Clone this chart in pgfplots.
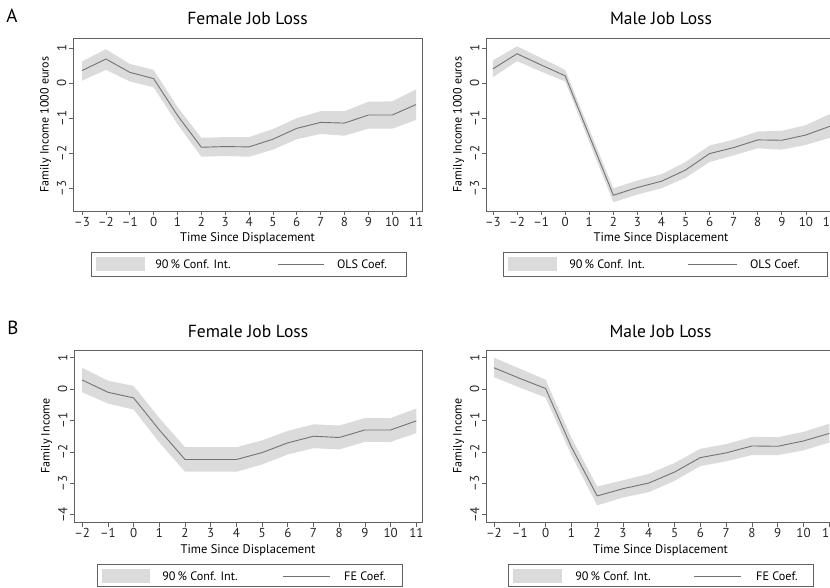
\documentclass[border=0pt]{standalone}
\usepackage{fontspec}
\setmainfont{PT Sans}
\usepackage{pgfplots}
\usepackage{pgfplotstable}
\pgfplotsset{compat=1.18}
\usepgfplotslibrary{fillbetween}
\definecolor{frm}{gray}{0.38}
\definecolor{bandc}{gray}{0.86}
\definecolor{linec}{gray}{0.45}

\pgfplotstableread{
x y lo hi
-3 0.36 0.07 0.62
-2 0.69 0.38 0.97
-1 0.31 0.05 0.55
0 0.13 -0.12 0.38
1 -0.92 -1.17 -0.68
2 -1.83 -2.10 -1.56
3 -1.81 -2.08 -1.54
4 -1.82 -2.10 -1.54
5 -1.60 -1.90 -1.31
6 -1.29 -1.60 -1.00
7 -1.12 -1.45 -0.80
8 -1.14 -1.50 -0.80
9 -0.91 -1.30 -0.53
10 -0.91 -1.30 -0.52
11 -0.61 -1.05 -0.18
}\af
\pgfplotstableread{
x y lo hi
-3 0.41 0.17 0.65
-2 0.84 0.63 1.05
-1 0.52 0.33 0.72
0 0.21 0.05 0.38
1 -1.50 -1.68 -1.32
2 -3.20 -3.40 -3.00
3 -2.98 -3.18 -2.78
4 -2.80 -3.00 -2.60
5 -2.48 -2.70 -2.25
6 -2.01 -2.25 -1.78
7 -1.84 -2.06 -1.61
8 -1.62 -1.86 -1.38
9 -1.63 -1.90 -1.36
10 -1.48 -1.76 -1.20
11 -1.23 -1.56 -0.88
}\am
\pgfplotstableread{
x y lo hi
-2 0.29 -0.10 0.68
-1 -0.10 -0.46 0.27
0 -0.28 -0.65 0.10
1 -1.30 -1.70 -0.92
2 -2.24 -2.63 -1.85
3 -2.24 -2.63 -1.85
4 -2.24 -2.63 -1.85
5 -2.02 -2.40 -1.63
6 -1.71 -2.08 -1.33
7 -1.50 -1.88 -1.12
8 -1.54 -1.92 -1.16
9 -1.30 -1.68 -0.92
10 -1.30 -1.68 -0.92
11 -1.01 -1.40 -0.62
}\bfem
\pgfplotstableread{
x y lo hi
-2 0.68 0.38 1.00
-1 0.34 0.05 0.65
0 0.02 -0.27 0.30
1 -1.84 -2.10 -1.55
2 -3.40 -3.70 -3.10
3 -3.17 -3.45 -2.90
4 -2.99 -3.28 -2.70
5 -2.64 -2.92 -2.35
6 -2.18 -2.45 -1.90
7 -2.03 -2.30 -1.75
8 -1.81 -2.10 -1.52
9 -1.82 -2.10 -1.53
10 -1.65 -1.95 -1.36
11 -1.41 -1.70 -1.10
}\bmal

\pgfplotsset{stata/.style={
  scale only axis,
  axis line style={frm, line width=0.8pt},
  tick style={frm, line width=0.8pt},
  tick align=outside, major tick length=4.5pt,
  xtick pos=bottom, ytick pos=left,
  ticklabel style={font=\fontsize{13}{14}\selectfont, text=black!85},
  xticklabel style={inner sep=2pt},
  yticklabel style={rotate=90, anchor=south, inner sep=2pt},
  title style={at={(0.5,1)}, anchor=base, yshift=7pt, font=\fontsize{17.5}{18}\selectfont},
  every axis x label/.style={at={(axis description cs:0.5,0)}, anchor=base, yshift=-31pt, font=\fontsize{12.5}{13}\selectfont},
  every axis y label/.style={at={(axis description cs:-0.07,0.5)}, rotate=90, anchor=base, font=\fontsize{12}{13}\selectfont},
  xlabel={Time Since Displacement},
}}
\pgfplotsset{xa/.style={xtick={-3,...,11}, xticklabels={\textendash3,\textendash2,\textendash1,0,1,2,3,4,5,6,7,8,9,10,11}},
  xb/.style={xtick={-2,...,11}, xticklabels={\textendash2,\textendash1,0,1,2,3,4,5,6,7,8,9,10,11}},
  ya/.style={ytick={-3,...,1}, yticklabels={\textendash3,\textendash2,\textendash1,0,1}},
  yb/.style={ytick={-4,...,1}, yticklabels={\textendash4,\textendash3,\textendash2,\textendash1,0,1}}}

\newcommand{\band}[1]{%
  \addplot[name path=hi, draw=none] table[x=x,y=hi]{#1};
  \addplot[name path=lo, draw=none] table[x=x,y=lo]{#1};
  \addplot[fill=bandc, draw=none] fill between[of=hi and lo];
  \addplot[linec, line width=0.9pt] table[x=x,y=y]{#1};}

\begin{document}
\begin{tikzpicture}

\begin{axis}[stata, xa, ya, at={(73pt,376pt)}, anchor=south west, width=349pt, height=173pt,
  xmin=-3.38, xmax=11.25, ymin=-3.65, ymax=1.29, title={Female Job Loss}, ylabel={Family Income 1000 euros}]
\band{\af}
\end{axis}

\begin{axis}[stata, xa, ya, at={(486pt,376pt)}, anchor=south west, width=350pt, height=173pt,
  xmin=-3.29, xmax=11.25, ymin=-3.65, ymax=1.29, title={Male Job Loss}, ylabel={Family Income 1000 euros}]
\band{\am}
\end{axis}

\begin{axis}[stata, xb, yb, at={(74pt,65pt)}, anchor=south west, width=348pt, height=172pt,
  xmin=-2.32, xmax=11.22, ymin=-4.23, ymax=1.245, title={Female Job Loss}, ylabel={Family Income}]
\band{\bfem}
\end{axis}

\begin{axis}[stata, xb, yb, at={(486pt,65pt)}, anchor=south west, width=349pt, height=172pt,
  xmin=-2.31, xmax=11.22, ymin=-4.23, ymax=1.245, title={Male Job Loss}, ylabel={Family Income}]
\band{\bmal}
\end{axis}

\node[font=\fontsize{19}{20}\selectfont] at (12pt,571pt) {A};
\node[font=\fontsize{19}{20}\selectfont] at (13pt,259pt) {B};

\tikzset{lt/.style={font=\fontsize{12.2}{13}\selectfont}}
% legend A left
\draw[frm, line width=0.8pt] (91pt,311pt) rectangle (406pt,335pt);
\fill[bandc] (96pt,316pt) rectangle (145pt,330pt);
\node[lt] at (193pt,323pt) {90\,\% Conf. Int.};
\draw[linec, line width=0.9pt] (278pt,323pt) -- (324pt,323pt);
\node[lt] at (362pt,323pt) {OLS Coef.};
% legend A right
\draw[frm, line width=0.8pt] (503pt,311pt) rectangle (827pt,335pt);
\fill[bandc] (508pt,316pt) rectangle (557pt,330pt);
\node[lt] at (607pt,323pt) {90\,\% Conf. Int.};
\draw[linec, line width=0.9pt] (688pt,323pt) -- (737pt,323pt);
\node[lt] at (775pt,323pt) {OLS Coef.};
% legend B left
\draw[frm, line width=0.8pt] (97pt,1pt) rectangle (402pt,23pt);
\fill[bandc] (102pt,4pt) rectangle (150pt,18pt);
\node[lt] at (200pt,11pt) {90\,\% Conf. Int.};
\draw[linec, line width=0.9pt] (283pt,11pt) -- (330pt,11pt);
\node[lt] at (365pt,11pt) {FE Coef.};
% legend B right
\draw[frm, line width=0.8pt] (508pt,1pt) rectangle (813pt,23pt);
\fill[bandc] (513pt,4pt) rectangle (562pt,18pt);
\node[lt] at (613pt,11pt) {90\,\% Conf. Int.};
\draw[linec, line width=0.9pt] (694pt,11pt) -- (741pt,11pt);
\node[lt] at (777pt,11pt) {FE Coef.};

\pgfresetboundingbox
\path[use as bounding box] (0pt,0pt) rectangle (830pt,587pt);
\end{tikzpicture}
\end{document}
